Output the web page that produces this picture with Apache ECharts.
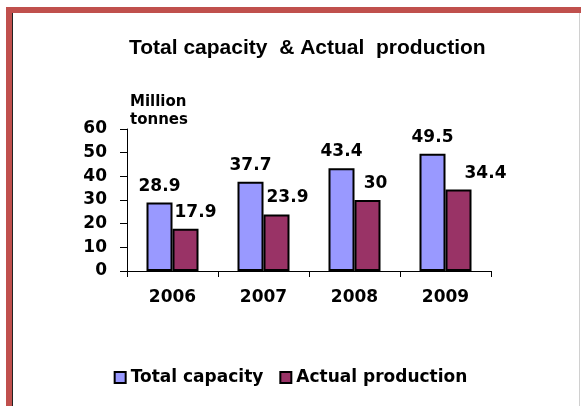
<!DOCTYPE html>
<html>
<head>
<meta charset="utf-8">
<script src="https://cdn.jsdelivr.net/npm/echarts@6/dist/echarts.min.js"></script>
<style>
  html, body { margin: 0; padding: 0; background: #ffffff; }
  #chart { width: 581px; height: 406px; }
</style>
</head>
<body>
<div id="chart"></div>
<script>
// Capacity vs. output, million tonnes per year
const years = ['2006', '2007', '2008', '2009'];
const totalCapacity = [28.9, 37.7, 43.4, 49.5];
const actualProduction = [17.9, 23.9, 30, 34.4];
const productionLabelShift = [10, 11, 8, 27];
const yTicks = [0, 10, 20, 30, 40, 50, 60];

const labelFont = {
  fontFamily: 'DejaVu Sans',
  fontWeight: 'bold',
  fontSize: 17,
  color: '#000000'
};

const chart = echarts.init(document.getElementById('chart'), null, { renderer: 'canvas' });

chart.setOption({
  backgroundColor: '#ffffff',
  animation: false,
  title: {
    text: 'Total capacity  & Actual  production',
    left: 124,
    top: 33,
    textStyle: {
      fontFamily: 'Liberation Sans',
      fontWeight: 'bold',
      fontSize: 21,
      color: '#000000'
    }
  },
  graphic: [
    // frame round the chart area
    { type: 'rect', shape: { x: 6, y: 7, width: 575, height: 6 }, style: { fill: '#c0504d' }, silent: true },
    { type: 'rect', shape: { x: 6, y: 7, width: 6, height: 399 }, style: { fill: '#c0504d' }, silent: true },
    { type: 'rect', shape: { x: 12, y: 13, width: 1, height: 393 }, style: { fill: '#222222' }, silent: true },
    { type: 'rect', shape: { x: 579, y: 13, width: 1, height: 393 }, style: { fill: '#d0d0d0' }, silent: true },
    {
      type: 'text',
      left: 130,
      top: 93,
      style: {
        text: 'Million\ntonnes',
        fontFamily: 'DejaVu Sans',
        fontWeight: 'bold',
        fontSize: 15,
        lineHeight: 18,
        fill: '#000000'
      }
    }
  ],
  grid: {
    left: 127,
    right: 90,
    top: 129,
    bottom: 135,
    containLabel: false
  },
  legend: {
    top: 364,
    left: 'center',
    itemWidth: 11,
    itemHeight: 11,
    itemGap: 16,
    icon: 'rect',
    textStyle: Object.assign({}, labelFont),
    data: ['Total capacity', 'Actual production']
  },
  xAxis: {
    type: 'category',
    data: years,
    axisLine: { lineStyle: { color: '#000000', width: 1 } },
    axisTick: { show: true, length: 6, alignWithLabel: false, lineStyle: { color: '#000000' } },
    axisLabel: Object.assign({ margin: 18 }, labelFont),
    splitLine: { show: false }
  },
  yAxis: {
    type: 'value',
    min: yTicks[0],
    max: yTicks[yTicks.length - 1],
    interval: 10,
    axisLine: { show: true, lineStyle: { color: '#000000', width: 1 } },
    axisTick: { show: true, length: 7, lineStyle: { color: '#000000' } },
    axisLabel: Object.assign({ margin: 20 }, labelFont),
    splitLine: { show: false }
  },
  series: [
    {
      name: 'Total capacity',
      type: 'bar',
      barWidth: 26,
      barGap: '0%',
      data: totalCapacity,
      itemStyle: { color: '#9999ff', borderColor: '#000000', borderWidth: 2 },
      label: Object.assign({ show: true, position: 'top', distance: 8 }, labelFont)
    },
    {
      name: 'Actual production',
      type: 'bar',
      barWidth: 26,
      barGap: '0%',
      data: actualProduction.map((v, i) => ({
        value: v,
        label: { offset: [productionLabelShift[i], 0] }
      })),
      itemStyle: { color: '#993366', borderColor: '#000000', borderWidth: 2 },
      label: Object.assign({ show: true, position: 'top', distance: 8 }, labelFont)
    }
  ]
});
</script>
</body>
</html>
